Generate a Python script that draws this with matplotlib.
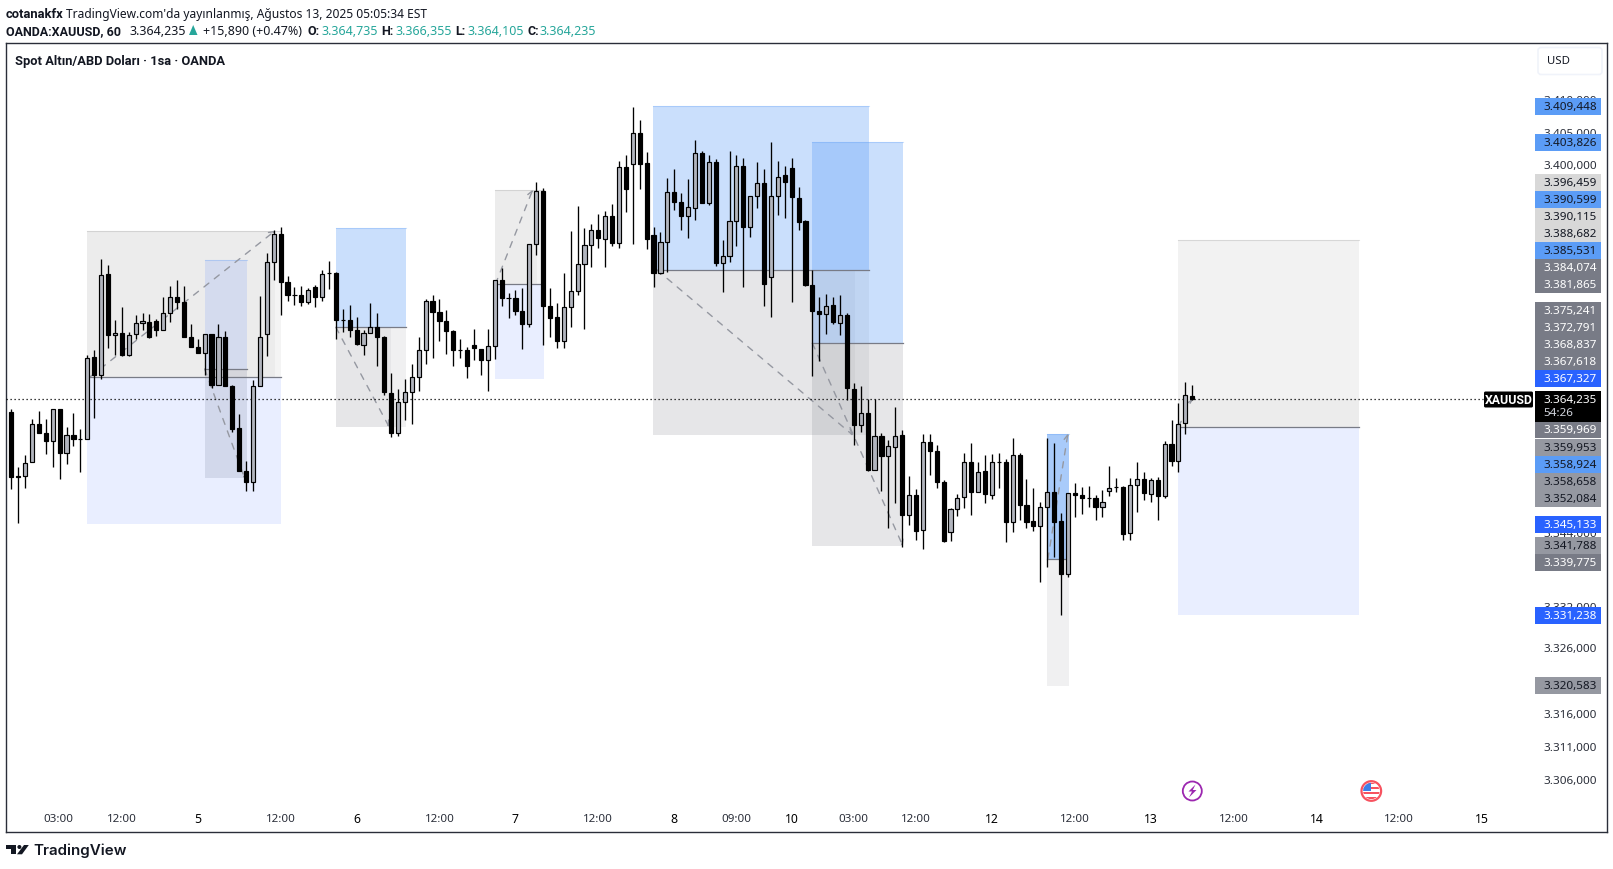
import matplotlib
matplotlib.use("Agg")
import matplotlib.pyplot as plt
from matplotlib.patches import Rectangle, Circle, Polygon, FancyBboxPatch

# -----------------------------
# Candles (1h XAUUSD)
# -----------------------------
opens = [
    3362.30, 3352.47, 3352.47, 3354.62, 3360.46, 3359.07, 3357.85, 3362.76, 3356.00, 3358.77,
    3358.15, 3358.15, 3370.75, 3367.98, 3383.49, 3374.07, 3374.43, 3371.00, 3374.28, 3375.92,
    3376.12, 3376.27, 3374.89, 3377.50, 3379.96, 3379.19, 3373.82, 3372.28, 3371.36, 3374.28,
    3366.45, 3373.82, 3366.29, 3359.84, 3353.24, 3351.50, 3366.29, 3374.28, 3385.33, 3389.63,
    3382.26, 3380.27, 3380.27, 3379.19, 3381.50, 3379.96, 3383.65, 3383.65, 3376.43, 3376.43,
    3374.89, 3372.59, 3374.43, 3375.35, 3373.82, 3365.22, 3359.07, 3363.83, 3365.37, 3367.67,
    3371.82, 3379.35, 3377.66, 3376.27, 3374.74, 3371.82, 3371.82, 3372.59, 3371.97, 3370.28,
    3372.43, 3382.57, 3379.81, 3379.81, 3377.81, 3375.81, 3388.10, 3396.24, 3378.58, 3376.89,
    3373.20, 3378.42, 3380.88, 3385.03, 3387.95, 3390.25, 3388.87, 3392.40, 3388.25, 3399.92,
    3400.38, 3405.30, 3400.54, 3389.48, 3383.65, 3388.41, 3396.08, 3394.55, 3392.40, 3393.63,
    3402.23, 3394.34, 3400.69, 3385.13, 3386.26, 3391.63, 3400.08, 3390.71, 3395.42, 3397.47,
    3383.03, 3395.47, 3398.70, 3399.77, 3395.16, 3391.70, 3381.80, 3377.81, 3377.34, 3378.73,
    3375.96, 3377.19, 3365.83, 3360.30, 3362.14, 3353.34, 3358.61, 3355.49, 3356.92, 3358.76,
    3346.43, 3349.55, 3344.17, 3357.69, 3356.31, 3351.54, 3343.97, 3347.40, 3349.24, 3354.62,
    3350.01, 3353.23, 3349.55, 3354.62, 3354.62, 3345.50, 3355.69, 3348.01, 3345.56, 3344.79,
    3347.71, 3350.01, 3345.56, 3337.57, 3349.86, 3349.55, 3349.09, 3349.09, 3347.71, 3350.11,
    3350.78, 3350.78, 3343.71, 3351.03, 3352.00, 3349.70, 3351.85, 3349.34, 3357.38, 3354.77,
    3360.61, 3364.735,
]
highs = [
    3362.66, 3353.85, 3355.60, 3361.12, 3362.35, 3361.12, 3362.76, 3362.76, 3360.00, 3362.04,
    3359.69, 3370.95, 3371.72, 3385.69, 3384.77, 3376.32, 3378.32, 3374.59, 3377.09, 3377.40,
    3377.25, 3376.58, 3379.86, 3381.55, 3382.47, 3381.55, 3375.71, 3373.41, 3374.28, 3374.28,
    3375.71, 3374.74, 3366.45, 3361.89, 3354.67, 3367.11, 3380.01, 3386.72, 3390.25, 3390.76,
    3383.08, 3381.39, 3381.60, 3381.24, 3381.70, 3384.11, 3385.49, 3383.80, 3378.01, 3378.63,
    3376.79, 3374.89, 3378.94, 3377.40, 3373.92, 3368.19, 3365.73, 3367.26, 3369.57, 3373.71,
    3379.55, 3380.16, 3379.55, 3377.86, 3374.79, 3373.41, 3372.28, 3374.94, 3371.97, 3374.94,
    3382.57, 3384.41, 3380.47, 3380.93, 3381.24, 3388.10, 3397.67, 3396.70, 3381.34, 3379.04,
    3383.54, 3390.15, 3393.93, 3390.56, 3391.17, 3392.71, 3393.17, 3394.24, 3400.90, 3401.82,
    3409.34, 3407.35, 3402.28, 3390.76, 3389.94, 3398.23, 3399.62, 3395.93, 3398.13, 3404.22,
    3402.53, 3401.77, 3401.15, 3388.71, 3402.53, 3401.77, 3401.31, 3395.42, 3400.69, 3399.62,
    3403.92, 3400.85, 3400.08, 3401.31, 3396.95, 3391.83, 3384.10, 3379.96, 3380.42, 3379.96,
    3380.26, 3377.50, 3366.75, 3366.29, 3364.29, 3364.29, 3359.07, 3357.89, 3363.06, 3359.53,
    3352.52, 3350.52, 3358.92, 3358.92, 3357.12, 3351.80, 3347.60, 3349.70, 3355.90, 3357.53,
    3354.62, 3355.59, 3355.84, 3356.00, 3354.97, 3358.30, 3356.00, 3352.00, 3350.62, 3348.47,
    3358.30, 3357.43, 3346.78, 3349.86, 3351.39, 3350.78, 3350.98, 3349.55, 3350.32, 3354.00,
    3352.16, 3350.93, 3352.16, 3354.62, 3353.08, 3352.16, 3352.31, 3357.84, 3361.07, 3363.68,
    3366.90, 3366.355,
]
lows = [
    3350.47, 3345.25, 3350.63, 3354.62, 3359.02, 3355.75, 3353.80, 3351.96, 3354.26, 3357.03,
    3353.03, 3358.10, 3361.33, 3367.37, 3372.08, 3370.95, 3370.85, 3370.85, 3373.41, 3374.79,
    3373.61, 3373.92, 3374.89, 3376.07, 3378.07, 3373.77, 3372.23, 3371.31, 3367.93, 3365.98,
    3366.45, 3366.29, 3359.18, 3353.19, 3350.12, 3350.12, 3366.29, 3370.85, 3382.52, 3377.14,
    3379.35, 3378.68, 3378.53, 3378.83, 3378.37, 3379.29, 3381.09, 3373.51, 3374.53, 3373.77,
    3372.54, 3371.00, 3374.43, 3369.31, 3364.86, 3358.41, 3358.56, 3361.02, 3360.41, 3365.47,
    3369.62, 3370.54, 3373.15, 3371.15, 3369.31, 3370.54, 3367.47, 3370.23, 3367.93, 3365.47,
    3370.39, 3378.53, 3376.68, 3377.14, 3371.92, 3375.30, 3386.36, 3372.54, 3373.77, 3372.08,
    3372.08, 3375.30, 3380.22, 3374.99, 3384.52, 3387.43, 3384.52, 3387.74, 3387.43, 3392.96,
    3388.05, 3396.65, 3387.28, 3381.44, 3383.44, 3383.75, 3393.37, 3390.20, 3388.97, 3391.84,
    3394.34, 3394.04, 3384.67, 3380.68, 3385.28, 3387.74, 3381.44, 3389.12, 3393.58, 3378.53,
    3376.84, 3392.50, 3392.04, 3379.14, 3390.20, 3381.59, 3367.77, 3370.08, 3374.17, 3375.76,
    3374.02, 3364.09, 3357.18, 3359.17, 3353.18, 3353.34, 3350.11, 3344.58, 3348.27, 3341.56,
    3345.04, 3342.74, 3341.26, 3352.57, 3350.57, 3342.43, 3342.59, 3346.27, 3347.50, 3346.43,
    3350.01, 3348.27, 3348.88, 3350.57, 3342.43, 3343.97, 3345.66, 3344.58, 3344.12, 3336.29,
    3338.59, 3340.13, 3331.22, 3337.06, 3346.12, 3346.58, 3347.71, 3345.66, 3346.12, 3349.45,
    3349.96, 3342.74, 3342.74, 3346.89, 3348.73, 3348.42, 3345.66, 3349.04, 3353.95, 3353.03,
    3358.86, 3364.105,
]
closes = [
    3352.32, 3352.32, 3354.47, 3360.46, 3359.02, 3357.85, 3362.76, 3356.00, 3358.77, 3358.10,
    3358.15, 3370.59, 3367.98, 3383.34, 3374.07, 3374.43, 3371.00, 3374.12, 3375.97, 3376.27,
    3373.77, 3374.89, 3377.50, 3379.96, 3379.14, 3373.77, 3372.23, 3371.31, 3374.28, 3366.45,
    3373.82, 3366.29, 3359.64, 3353.19, 3351.50, 3366.29, 3373.82, 3385.33, 3389.63, 3382.21,
    3380.27, 3380.27, 3379.14, 3381.03, 3379.96, 3383.49, 3383.65, 3376.38, 3376.43, 3374.89,
    3372.69, 3374.43, 3375.35, 3373.77, 3365.32, 3359.07, 3363.83, 3365.37, 3367.67, 3371.82,
    3379.35, 3377.60, 3376.22, 3374.69, 3371.77, 3371.82, 3369.31, 3372.08, 3370.23, 3372.43,
    3382.57, 3379.75, 3379.81, 3377.76, 3375.76, 3388.10, 3396.24, 3378.53, 3376.68, 3373.15,
    3378.42, 3380.88, 3385.03, 3387.95, 3390.25, 3389.02, 3392.40, 3388.20, 3399.92, 3396.55,
    3405.30, 3400.49, 3388.82, 3383.59, 3388.41, 3396.08, 3394.50, 3392.35, 3393.78, 3402.23,
    3394.34, 3400.69, 3385.13, 3386.26, 3391.63, 3400.08, 3390.71, 3395.42, 3397.57, 3381.91,
    3395.57, 3398.49, 3397.72, 3395.32, 3391.48, 3381.75, 3377.75, 3377.29, 3378.57, 3376.06,
    3377.19, 3365.93, 3360.25, 3362.14, 3353.34, 3358.61, 3355.49, 3357.07, 3358.61, 3346.43,
    3349.55, 3344.12, 3357.69, 3356.25, 3351.49, 3342.59, 3347.40, 3349.09, 3354.62, 3350.01,
    3353.08, 3349.70, 3354.62, 3354.62, 3345.50, 3355.69, 3347.96, 3345.50, 3344.74, 3347.71,
    3350.01, 3345.50, 3337.52, 3349.86, 3349.50, 3349.04, 3349.09, 3347.65, 3348.47, 3350.62,
    3350.78, 3343.66, 3351.03, 3352.00, 3349.80, 3351.85, 3349.34, 3357.38, 3354.77, 3360.45,
    3364.91, 3364.235,
]
last_price = 3364.235

# -----------------------------
# Position boxes: bar range and top / entry / bottom levels
# -----------------------------
box_x0 = [11.0, 28.0, 47.0, 70.1, 92.9, 115.9, 150.0, 168.9]
box_x1 = [39.05, 34.1, 57.2, 77.1, 124.2, 129.1, 153.1, 195.1]
box_inner = [38.2, 34.1, 55.0, 76.1, 122.2, 129.1, 153.1, 195.1]
box_top = [3390.115, 3385.531, 3390.599, 3396.459, 3409.448, 3403.826, 3358.924, 3388.682]
box_mid = [3367.618, 3368.837, 3375.241, 3381.865, 3384.074, 3372.791, 3339.775, 3359.953]
box_bot = [3345.133, 3352.084, 3359.969, 3367.327, 3358.658, 3341.788, 3320.583, 3331.238]
box_kind = ["gray_up", "navy", "blue_up", "gray_up", "blue_up", "blue_up", "strong", "gray_up"]

# zigzag legs inside the boxes
leg_x0 = [11.4, 28.0, 47.0, 70.1, 93.5, 116.0, 150.1, 169.0]
leg_x1 = [38.2, 33.8, 54.7, 75.5, 121.9, 129.1, 153.0, 171.0]
leg_p0 = [3367.618, 3368.837, 3375.241, 3381.865, 3384.074, 3372.791, 3339.775, 3359.953]
leg_p1 = [3390.115, 3352.084, 3359.969, 3396.459, 3358.658, 3341.788, 3358.924, 3364.235]

# -----------------------------
# Axis labels
# -----------------------------
time_labels = ["03:00", "12:00", "5", "12:00", "6", "12:00", "7", "12:00", "8", "09:00", "10",
               "03:00", "12:00", "12", "12:00", "13", "12:00", "14", "12:00", "15"]
time_bars = [6.85, 16, 27, 39, 50, 62, 73, 85, 96, 105, 113, 122, 131, 142, 154, 165, 177, 189, 201, 213]
day_labels = ["5", "6", "7", "8", "10", "12", "13", "14", "15"]

price_ticks = ["3.410,000", "3.405,000", "3.400,000", "3.344,000", "3.338,000", "3.332,000",
               "3.326,000", "3.316,000", "3.311,000", "3.306,000"]
price_tick_y = [100, 133, 165.7, 533, 565, 607, 648.3, 714.3, 747.7, 780.3]

tag_labels = ["3.409,448", "3.403,826", "3.396,459", "3.390,599", "3.390,115", "3.388,682", "3.385,531",
              "3.384,074", "3.381,865", "3.375,241", "3.372,791", "3.368,837", "3.367,618", "3.367,327",
              "3.359,969", "3.359,953", "3.358,924", "3.358,658", "3.352,084", "3.345,133", "3.341,788",
              "3.339,775", "3.331,238", "3.320,583"]
tag_y = [106, 142.3, 182.3, 199.3, 216, 233, 250, 267, 284, 310, 327, 344, 361, 378,
         429.3, 447, 464, 481, 498, 524, 545, 562, 615, 685]
tag_kind = ["blue", "blue", "light", "blue", "light", "light", "blue", "gray", "gray", "gray", "gray",
            "gray", "gray", "strong", "gray", "mid", "blue", "mid", "mid", "strong", "mid", "gray",
            "strong", "mid"]

# -----------------------------
# Colours
# -----------------------------
FONT = "Noto Sans"
BOLD_FONT = "Roboto"
DARK = "#131722"
UP_FILL = "#b2b5be"
BLUE = "#5b9cf6"
STRONG = "#2962ff"
GRAY = "#787b86"
MID = "#9598a1"
LIGHT = "#d8d8d8"
TEAL = "#26a69a"

tag_fill = {"blue": BLUE, "strong": STRONG, "gray": GRAY, "mid": MID, "light": LIGHT}
tag_text = {"blue": DARK, "strong": "white", "gray": "white", "mid": DARK, "light": DARK}

W, H = 1613, 869
fig = plt.figure(figsize=(W / 100, H / 100), dpi=100, facecolor="white")

# main price pane, the frame sits at x 6-1607, y 43-832
ax = fig.add_axes([6 / W, 1 - 832 / H, (1607 - 6) / W, (832 - 43) / H])
ax.set_yscale("log")
ax.set_xlim(-0.767, 231.06)
ax.set_ylim(3298.5, 3419.25)
ax.minorticks_off()
ax.set_xticks([])
ax.set_yticks([])
ax.tick_params(which="both", left=False, bottom=False, labelleft=False, labelbottom=False)
for spine in ax.spines.values():
    spine.set_color("#2a2e39")
    spine.set_linewidth(1.0)


def shade(x0, x1, p0, p1, color, alpha):
    ax.add_patch(Rectangle((x0, p0), x1 - x0, p1 - p0, facecolor=color, alpha=alpha,
                           edgecolor="none", zorder=1))


# -----------------------------
# Position boxes
# -----------------------------
for i in range(len(box_x0)):
    x0, x1, xi = box_x0[i], box_x1[i], box_inner[i]
    top, mid, bot = box_top[i], box_mid[i], box_bot[i]
    kind = box_kind[i]

    if kind == "gray_up":
        if i == 7:
            # live position: the part between entry and last price is darker
            shade(x0, x1, last_price, top, "#9b9b9b", 0.12)
            shade(x0, x1, mid, last_price, "#9b9b9b", 0.19)
        else:
            shade(x0, xi, mid, top, "#9b9b9b", 0.19)
            shade(xi, x1, mid, top, "#9b9b9b", 0.1)
        shade(x0, x1, bot, mid, STRONG, 0.1)
    elif kind == "navy":
        shade(x0, x1, mid, top, STRONG, 0.12)
        shade(x0, x1, bot, mid, "#7a809e", 0.2)
    elif kind == "blue_up":
        shade(x0, x1, mid, top, BLUE, 0.32)
        shade(x0, xi, bot, mid, GRAY, 0.185)
        shade(xi, x1, bot, mid, GRAY, 0.11)
    else:
        shade(x0, x1, mid, top, BLUE, 0.52)
        shade(x0, x1, bot, mid, GRAY, 0.11)

    ax.plot([x0, x1], [mid, mid], color=GRAY, lw=0.9, zorder=2)
    top_color = BLUE if kind in ("blue_up", "strong", "navy") else "#9b9b9b"
    ax.plot([x0, x1], [top, top], color=top_color, lw=0.8, alpha=0.3, zorder=2)

for i in range(len(leg_x0)):
    ax.annotate("", xy=(leg_x1[i], leg_p1[i]), xytext=(leg_x0[i], leg_p0[i]), zorder=2.5,
                arrowprops=dict(arrowstyle="->,head_length=0.35,head_width=0.2", color=MID, lw=1.0,
                                linestyle=(0, (4.5, 5)), shrinkA=0, shrinkB=0))

# -----------------------------
# Candles
# -----------------------------
bars = list(range(len(opens)))
ax.vlines(bars, lows, highs, color="black", lw=0.95, zorder=3)
for i in bars:
    bottom = min(opens[i], closes[i])
    height = abs(closes[i] - opens[i])
    fill = UP_FILL if closes[i] > opens[i] else "black"
    ax.bar(i, height, bottom=bottom, width=0.6, color=fill, edgecolor="black", linewidth=0.85, zorder=4)

# last price line runs up to the symbol tag
ax.plot([-0.767, (1483 - 6) / 6.906 - 0.767], [last_price, last_price], color="black",
        lw=0.9, linestyle=(0, (1, 2.2)), zorder=2.8)

# -----------------------------
# Overlay in screen pixels: text, tags, logo
# -----------------------------
ov = fig.add_axes([0, 0, 1, 1], facecolor="none")
ov.set_xlim(0, W)
ov.set_ylim(H, 0)
ov.axis("off")


def put(x, y, s, size=8.4, color=DARK, weight="normal", ha="left", z=5, family=None):
    # Noto Sans has no real bold here, so bold text goes through Roboto
    if family is None:
        family = BOLD_FONT if weight == "bold" else FONT
    ov.text(x, y + 1.3, s, fontsize=size, color=color, fontweight=weight, ha=ha, va="center",
            family=family, zorder=z)


# header
put(6, 13, "cotanakfx", weight="bold", size=9.4)
put(66.5, 13, "TradingView.com'da yayınlanmış, Ağustos 13, 2025 05:05:34 EST", size=8.65)
put(6, 30, "OANDA:XAUUSD, 60", weight="bold", size=9.0)
put(130, 30, "3.364,235", size=9.0)
ov.add_patch(Polygon([[189, 35], [197.5, 35], [193.2, 25]], closed=True, facecolor=TEAL, edgecolor="none"))
put(203, 30, "+15,890 (+0.47%)", size=8.95)
for lab, lx, val, vx in [("O:", 307.5, "3.364,735", 321), ("H:", 381.5, "3.366,355", 395),
                         ("L:", 455.5, "3.364,105", 467), ("C:", 527.5, "3.364,235", 540)]:
    put(lx, 30, lab, weight="bold", size=9.0)
    put(vx, 30, val, color=TEAL, size=9.0)

put(15, 60, "Spot Altın/ABD Doları · 1sa · OANDA", weight="bold", size=9.3)

# time axis, day numbers only a little darker than the hours
for lab, b in zip(time_labels, time_bars):
    px = 11.3 + 6.906 * b
    is_day = lab in day_labels
    put(px, 818, lab, size=8.8 if is_day else 8.3, ha="center", color="black" if is_day else "#2a2e39")

# price axis ticks go under the tags, as in the original
for lab, y in zip(price_ticks, price_tick_y):
    put(1543, y, lab, size=8.4, color="#2a2e39", z=1)

for lab, y, kind in zip(tag_labels, tag_y, tag_kind):
    ov.add_patch(Rectangle((1535, y - 8.5), 66, 17, facecolor=tag_fill[kind], edgecolor="none", zorder=2))
    put(1543, y, lab, size=8.4, color=tag_text[kind], z=3)

# last price tag with countdown, symbol tag
ov.add_patch(Rectangle((1535, 390.7), 66, 31, facecolor="black", edgecolor="none", zorder=2))
put(1543, 399.5, "3.364,235", size=8.4, color="white", z=3)
put(1543, 412.5, "54:26", size=8.4, color="#d1d4dc", z=3)
ov.add_patch(FancyBboxPatch((1484, 391.5), 49, 16, boxstyle="round,pad=0,rounding_size=1.5",
                            facecolor="black", edgecolor="none", zorder=2))
put(1508.5, 399.5, "XAUUSD", size=8.8, color="white", ha="center", z=3, weight="bold")

# USD button
ov.add_patch(FancyBboxPatch((1538, 47.5), 64, 27, boxstyle="round,pad=0,rounding_size=3",
                            facecolor="white", edgecolor="#f0f3fa", lw=1.2, zorder=2))
put(1547, 60, "USD", size=8.2, color=DARK, z=3)

# event icons
ov.add_patch(Circle((1192.3, 791), 9.5, facecolor="white", edgecolor="#9c27b0", lw=1.3, zorder=3))
ov.add_patch(Polygon([[1195.5, 784.5], [1188.5, 791.5], [1192, 791.5], [1189, 797.5], [1196.5, 790],
                      [1192.8, 790]], closed=True, facecolor="#9c27b0", edgecolor="none", zorder=4))

ring = Circle((1371.3, 791), 9.8, facecolor="white", edgecolor="#f7525f", lw=1.6, zorder=3)
ov.add_patch(ring)
inner = Circle((1371.3, 791), 8.2, transform=ov.transData)
for sy in [783, 788, 793, 798]:
    st = Rectangle((1362, sy - 1.3), 19, 2.6, facecolor="#f7525f", edgecolor="none", zorder=4)
    ov.add_patch(st)
    st.set_clip_path(inner)
canton = Rectangle((1362, 782), 9.3, 8.5, facecolor="#3d7fe8", edgecolor="none", zorder=5)
ov.add_patch(canton)
canton.set_clip_path(inner)

# TradingView logo
ov.add_patch(Polygon([[6, 845], [16, 845], [16, 854.3], [10.8, 854.3], [10.8, 849], [6, 849]],
                     closed=True, facecolor=DARK, edgecolor="none"))
ov.add_patch(Circle((19.4, 847), 2.0, facecolor=DARK, edgecolor="none"))
ov.add_patch(Polygon([[24, 845], [28.8, 845], [22, 854.3], [17, 854.3]], closed=True,
                     facecolor=DARK, edgecolor="none"))
put(33.5, 849.7, "TradingView", size=10.9, weight="semibold", family="Inter")

fig.savefig("out.png", dpi=100)
